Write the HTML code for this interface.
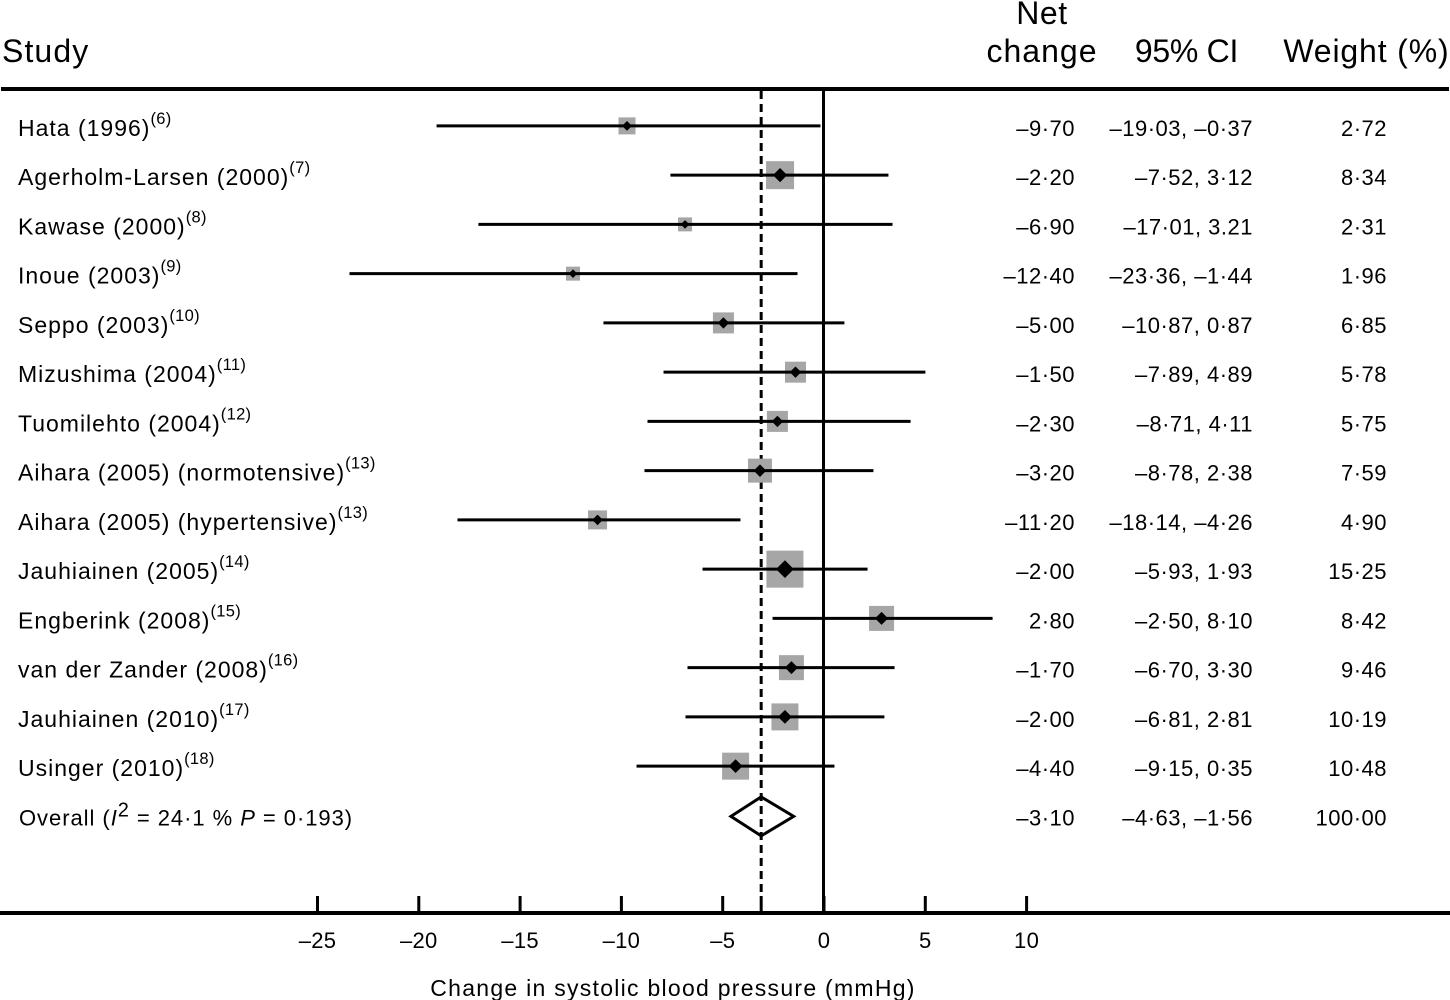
<!DOCTYPE html>
<html lang="en">
<head>
<meta charset="utf-8">
<title>Forest plot of change in systolic blood pressure</title>
<style>
html,body{margin:0;padding:0;background:#fff;width:1450px;height:1000px;overflow:hidden}
svg{display:block;font-family:"Liberation Sans",sans-serif;fill:#000}
</style>
</head>
<body>
<svg id="chart" xmlns="http://www.w3.org/2000/svg" width="1450" height="1000" viewBox="0 0 1450 1000"></svg>
<script>
// Chart data
const studies = ["Hata (1996)", "Agerholm-Larsen (2000)", "Kawase (2000)", "Inoue (2003)", "Seppo (2003)", "Mizushima (2004)", "Tuomilehto (2004)", "Aihara (2005) (normotensive)", "Aihara (2005) (hypertensive)", "Jauhiainen (2005)", "Engberink (2008)", "van der Zander (2008)", "Jauhiainen (2010)", "Usinger (2010)"];
const references = ["(6)", "(7)", "(8)", "(9)", "(10)", "(11)", "(12)", "(13)", "(13)", "(14)", "(15)", "(16)", "(17)", "(18)"];
const netChange = [-9.68, -2.14, -6.82, -12.34, -4.93, -1.38, -2.27, -3.13, -11.13, -1.90, 2.86, -1.58, -1.90, -4.33];
const ciLow = [-19.06, -7.54, -17.00, -23.35, -10.84, -7.88, -8.67, -8.82, -18.03, -5.96, -2.51, -6.70, -6.80, -9.21];
const ciHigh = [-0.15, 3.20, 3.40, -1.28, 1.03, 5.02, 4.29, 2.46, -4.09, 2.17, 8.33, 3.50, 3.00, 0.54];
const squareWeights = [3.2, 8.69, 2.17, 2.17, 4.89, 4.89, 4.89, 6.38, 4.0, 15.17, 6.93, 6.93, 8.08, 8.08];
const printedNet = ["–9·70", "–2·20", "–6·90", "–12·40", "–5·00", "–1·50", "–2·30", "–3·20", "–11·20", "–2·00", "2·80", "–1·70", "–2·00", "–4·40"];
const printedCI = ["–19·03, –0·37", "–7·52, 3·12", "–17·01, 3.21", "–23·36, –1·44", "–10·87, 0·87", "–7·89, 4·89", "–8·71, 4·11", "–8·78, 2·38", "–18·14, –4·26", "–5·93, 1·93", "–2·50, 8·10", "–6·70, 3·30", "–6·81, 2·81", "–9·15, 0·35"];
const printedWeight = ["2·72", "8·34", "2·31", "1·96", "6·85", "5·78", "5·75", "7·59", "4·90", "15·25", "8·42", "9·46", "10·19", "10·48"];
const overallNet = -3.07;
const overallLow = -4.56;
const overallHigh = -1.47;
const xTicks = [-25, -20, -15, -10, -5, 0, 5, 10];
const xTickLabels = ["–25", "–20", "–15", "–10", "–5", "0", "5", "10"];

const NS = "http://www.w3.org/2000/svg";
const svg = document.getElementById("chart");
const xScale = v => 823.5 + 20.3 * v;
const axisScale = v => 824 + 20.26 * v;
const yScale = i => 125.9 + 49.25 * i;
const sideScale = w => 9.5 * Math.sqrt(w);

function make(tag, props, parent) {
  const el = document.createElementNS(NS, tag);
  for (const k in props) el.setAttribute(k, props[k]);
  (parent || svg).appendChild(el);
  return el;
}
function label(str, x, y, size, anchor, spacing) {
  const el = make("text", {x: x, y: y, "font-size": size, "text-anchor": anchor || "start", "letter-spacing": spacing || 0});
  el.textContent = str;
  return el;
}

// Header
let t = label("Study", 2, 62, 32, "start", 1.1);


t = label("Net", 1042, 24, 32, "middle", 0.6);


t = label("change", 1042, 62, 32, "middle", 1);


t = label("95% CI", 1186.5, 62, 32, "middle", -0.3);


t = label("Weight (%)", 1449.5, 62, 32, "end", 0.85);



let r = make("rect", {x: 1, y: 87, width: 1448, height: 4});



// Reference lines (squares sit on top of them)
const zero = make("line", {x1: xScale(0), x2: xScale(0), y1: 90, y2: 913, stroke: "#000", "stroke-width": 3});


const dash = make("line", {x1: xScale(overallNet), x2: xScale(overallNet), y1: 91, y2: 896, stroke: "#000", "stroke-width": 3, "stroke-dasharray": "8 5"});


const dashTick = make("line", {x1: xScale(overallNet), x2: xScale(overallNet), y1: 896, y2: 913, stroke: "#000", "stroke-width": 3});



// Rows: squares and text
studies.forEach((name, i) => {
  const y = yScale(i);
  const side = sideScale(squareWeights[i]);
  const cx = xScale(netChange[i]);
  const g = make("g", {});
  
  

  const sq = make("rect", {x: cx - side / 2, y: y - side / 2, width: side, height: side, fill: "#a6a6a6"}, g);
  
  

  const n = make("text", {x: 18, y: y + 10, "font-size": 23, "letter-spacing": 1}, g);
  
  
  n.textContent = name;
  const sup = make("tspan", {"font-size": 16.5, dy: -12, "letter-spacing": 0.3}, n);
  sup.textContent = references[i];

  const a = make("text", {x: 1075, y: y + 10, "font-size": 22, "text-anchor": "end", "letter-spacing": 0.5}, g);
  
  
  a.textContent = printedNet[i];

  const b = make("text", {x: 1253, y: y + 10, "font-size": 22, "text-anchor": "end", "letter-spacing": 0.5}, g);
  
  
  b.textContent = printedCI[i];

  const c = make("text", {x: 1387, y: y + 10, "font-size": 22, "text-anchor": "end", "letter-spacing": 0.5}, g);
  
  
  c.textContent = printedWeight[i];
});

// CI lines and point markers
studies.forEach((name, i) => {
  const y = yScale(i);
  const ci = make("line", {x1: xScale(ciLow[i]), x2: xScale(ciHigh[i]), y1: y, y2: y, stroke: "#000", "stroke-width": 3});
  
  
  const cx = xScale(netChange[i]);
  const h = sideScale(squareWeights[i]) * 0.2 + 1.5;
  const d = make("polygon", {points: [cx - h, y, cx, y - h, cx + h, y, cx, y + h].join(" ")});
  
  
});

// Overall row
const oy = yScale(14) + 1;
const ot = make("text", {x: 19, y: oy + 9, "font-size": 22, "letter-spacing": 0.95});


ot.appendChild(document.createTextNode("Overall ("));
const oi = make("tspan", {"font-style": "italic"}, ot);
oi.textContent = "I";
const o2 = make("tspan", {"font-size": 20, dy: -9}, ot);
o2.textContent = "2";
const ob = make("tspan", {dy: 9}, ot);
ob.textContent = " = 24·1 % ";
const op = make("tspan", {"font-style": "italic"}, ot);
op.textContent = "P";
ot.appendChild(document.createTextNode(" = 0·193)"));

const ov = make("polygon", {points: [xScale(overallLow), oy, xScale(overallNet), oy - 19.5, xScale(overallHigh), oy, xScale(overallNet), oy + 19.5].join(" "), fill: "none", stroke: "#000", "stroke-width": 3});



t = label("–3·10", 1075, oy + 9, 22, "end", 0.5);


t = label("–4·63, –1·56", 1253, oy + 9, 22, "end", 0.5);


t = label("100·00", 1387, oy + 9, 22, "end", 0.5);



// X axis
const axis = make("rect", {x: 0, y: 911, width: 1450, height: 4});


xTicks.forEach((v, i) => {
  const tick = make("line", {x1: axisScale(v), x2: axisScale(v), y1: 896, y2: 913, stroke: "#000", "stroke-width": 3});
  
  
  const tl = label(xTickLabels[i], axisScale(v), 948, 22, "middle", 0.3);
  
  
});
t = label("Change in systolic blood pressure (mmHg)", 673, 996, 23, "middle", 1.27);


</script>
</body>
</html>
